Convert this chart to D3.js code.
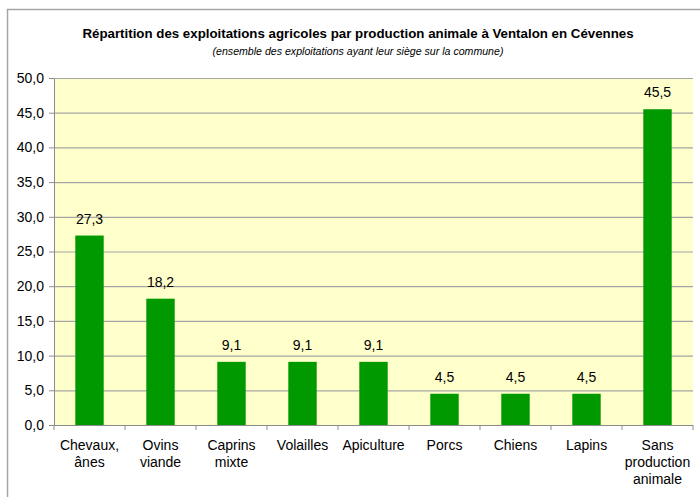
<!DOCTYPE html>
<html>
<head>
<meta charset="utf-8">
<script src="https://cdn.jsdelivr.net/npm/d3@7"></script>
<style>
body{margin:0;background:#fff;}
svg{font-family:"Liberation Sans",Arial,sans-serif;}
</style>
</head>
<body>
<div id="chart"></div>
<script>
// données
var categories = [["Chevaux,","ânes"],["Ovins","viande"],["Caprins","mixte"],["Volailles"],["Apiculture"],["Porcs"],["Chiens"],["Lapins"],["Sans","production","animale"]];
var values = [27.3,18.2,9.1,9.1,9.1,4.5,4.5,4.5,45.5];
var yTicks = [0,5,10,15,20,25,30,35,40,45,50];

var W = 700, H = 497;
var margin = {top:78,right:7,bottom:72,left:54};
var w = W - margin.left - margin.right,
    h = 425 - margin.top;

var fmt = function(v){ return d3.format(".1f")(v).replace(".",","); };

var svg = d3.select("#chart").append("svg")
  .attr("width",W).attr("height",H);

// cadre extérieur
svg.append("rect")
  .attr("x",7.5).attr("y",9.5)
  .attr("width",W).attr("height",H)
  .attr("fill","none").attr("stroke","#a6a6a6").attr("stroke-width",1.5);

svg.append("text")
  .attr("x",358).attr("y",38)
  .attr("text-anchor","middle")
  .attr("font-size","13.3px").attr("font-weight","bold")
  .text("Répartition des exploitations agricoles par production animale à Ventalon en Cévennes");

svg.append("text")
  .attr("x",358).attr("y",55)
  .attr("text-anchor","middle")
  .attr("font-size","10.6px").attr("font-style","italic")
  .text("(ensemble des exploitations ayant leur siège sur la commune)");

var g = svg.append("g").attr("transform",`translate(${margin.left},${margin.top})`);

var idx = d3.range(values.length);
var xScale = d3.scaleBand().domain(idx).range([0,w]).paddingInner(0.6).paddingOuter(0.3);
var xOuter = d3.scaleBand().domain(idx).range([0,w]);
var yScale = d3.scaleLinear().domain([0,50]).range([h,0]);

g.append("rect").attr("width",w).attr("height",h).attr("fill","#ffffcc");

// grille
g.selectAll(".grid").data(yTicks.slice(1)).enter()
  .append("line")
  .attr("x1",0).attr("x2",w)
  .attr("y1",d=>yScale(d)+0.5).attr("y2",d=>yScale(d)+0.5)
  .attr("stroke","#a6a6a6").attr("stroke-width",1.2);

// axe y
var yAxis = g.append("g")
  .call(d3.axisLeft(yScale).tickValues(yTicks).tickFormat(fmt).tickSize(5).tickSizeOuter(0));
yAxis.select(".domain").attr("stroke","#8c8c8c");
yAxis.selectAll("line").attr("stroke","#8c8c8c");
yAxis.selectAll("text").attr("font-size","14px").attr("fill","#000")
  .attr("font-family","Liberation Sans, Arial, sans-serif").attr("x",-10);

// barres
g.selectAll(".bar").data(values).enter()
  .append("rect")
  .attr("x",(d,i)=>xScale(i))
  .attr("width",xScale.bandwidth())
  .attr("y",d=>yScale(d))
  .attr("height",d=>h-yScale(d))
  .attr("fill","#009900");

g.selectAll(".val").data(values).enter()
  .append("text")
  .attr("x",(d,i)=>xScale(i)+xScale.bandwidth()/2)
  .attr("y",d=>yScale(d)-12)
  .attr("text-anchor","middle")
  .attr("font-size","14px")
  .text(fmt);

// axe x
var xg = g.append("g").attr("transform",`translate(0,${h})`);
xg.append("line").attr("x1",0).attr("x2",w).attr("y1",0.5).attr("y2",0.5)
  .attr("stroke","#8c8c8c").attr("stroke-width",1.2);
xg.selectAll(".tk").data(d3.range(values.length+1)).enter()
  .append("line")
  .attr("x1",d=>d<values.length?xOuter(d):w).attr("x2",d=>d<values.length?xOuter(d):w)
  .attr("y1",0).attr("y2",5)
  .attr("stroke","#8c8c8c");

var lab = xg.selectAll(".lab").data(categories).enter()
  .append("text")
  .attr("text-anchor","middle")
  .attr("font-size","14px")
  .attr("transform",(d,i)=>`translate(${xOuter(i)+xOuter.bandwidth()/2},25)`);
lab.selectAll("tspan").data(d=>d).enter()
  .append("tspan").attr("x",0).attr("dy",(d,i)=>i?17:0).text(d=>d);
</script>
</body>
</html>
